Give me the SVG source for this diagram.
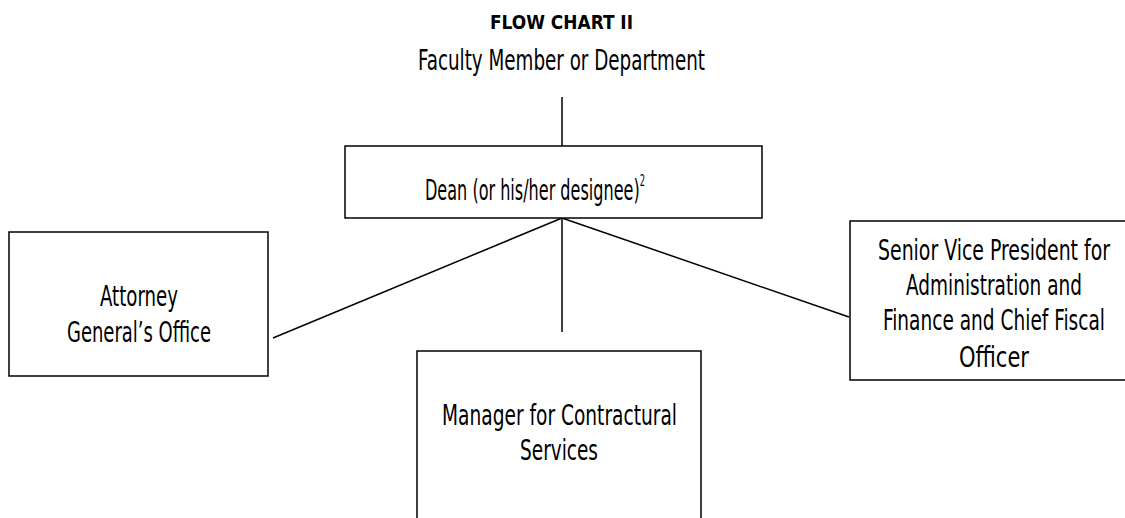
<svg xmlns="http://www.w3.org/2000/svg" width="1125" height="518" viewBox="0 0 1125 518">
<style>
  .box { fill: #fff; stroke: #000; stroke-width: 1.5; }
  .ln { stroke: #000; stroke-width: 1.5; fill: none; }
  .t { font-family: "DejaVu Sans Condensed", "Liberation Sans Narrow", "Liberation Sans", sans-serif; font-size: 29px; fill: #000; text-anchor: middle; }
  .title { font-family: "DejaVu Sans Condensed", "Liberation Sans Narrow", "Liberation Sans", sans-serif; font-size: 20px; font-weight: bold; fill: #000; text-anchor: middle; }
</style>
<rect width="1125" height="518" fill="#fff"/>
<g id="header">
  <text class="title" x="561.5" y="29" textLength="143" lengthAdjust="spacingAndGlyphs">FLOW CHART II</text>
  <text class="t" x="561.5" y="70" font-size="28" textLength="287" lengthAdjust="spacingAndGlyphs">Faculty Member or Department</text>
</g>
<g id="connectors">
  <line class="ln" x1="562" y1="97" x2="562" y2="146"/>
  <line class="ln" x1="562" y1="218" x2="273" y2="338"/>
  <line class="ln" x1="562" y1="218" x2="562" y2="332"/>
  <line class="ln" x1="562" y1="218" x2="849" y2="317"/>
</g>
<g id="dean">
  <rect class="box" x="345" y="146" width="417" height="72"/>
  <text class="t" x="535" y="200" textLength="220" lengthAdjust="spacingAndGlyphs">Dean (or his/her designee)<tspan font-size="15" dy="-14">2</tspan></text>
</g>
<g id="attorney">
  <rect class="box" x="9" y="232" width="259" height="144"/>
  <text class="t" x="139" y="306" textLength="78" lengthAdjust="spacingAndGlyphs">Attorney</text>
  <text class="t" x="139" y="342" textLength="144" lengthAdjust="spacingAndGlyphs">General’s Office</text>
</g>
<g id="svp">
  <rect class="box" x="850" y="221" width="290" height="159"/>
  <text class="t" x="994" y="260" textLength="232" lengthAdjust="spacingAndGlyphs">Senior Vice President for</text>
  <text class="t" x="994" y="295" textLength="176" lengthAdjust="spacingAndGlyphs">Administration and</text>
  <text class="t" x="994" y="330" textLength="222" lengthAdjust="spacingAndGlyphs">Finance and Chief Fiscal</text>
  <text class="t" x="994" y="367" textLength="70" lengthAdjust="spacingAndGlyphs">Officer</text>
</g>
<g id="manager">
  <rect class="box" x="417" y="351" width="284" height="200"/>
  <text class="t" x="559.5" y="425" textLength="235" lengthAdjust="spacingAndGlyphs">Manager for Contractural</text>
  <text class="t" x="559" y="460" textLength="78" lengthAdjust="spacingAndGlyphs">Services</text>
</g>
</svg>
